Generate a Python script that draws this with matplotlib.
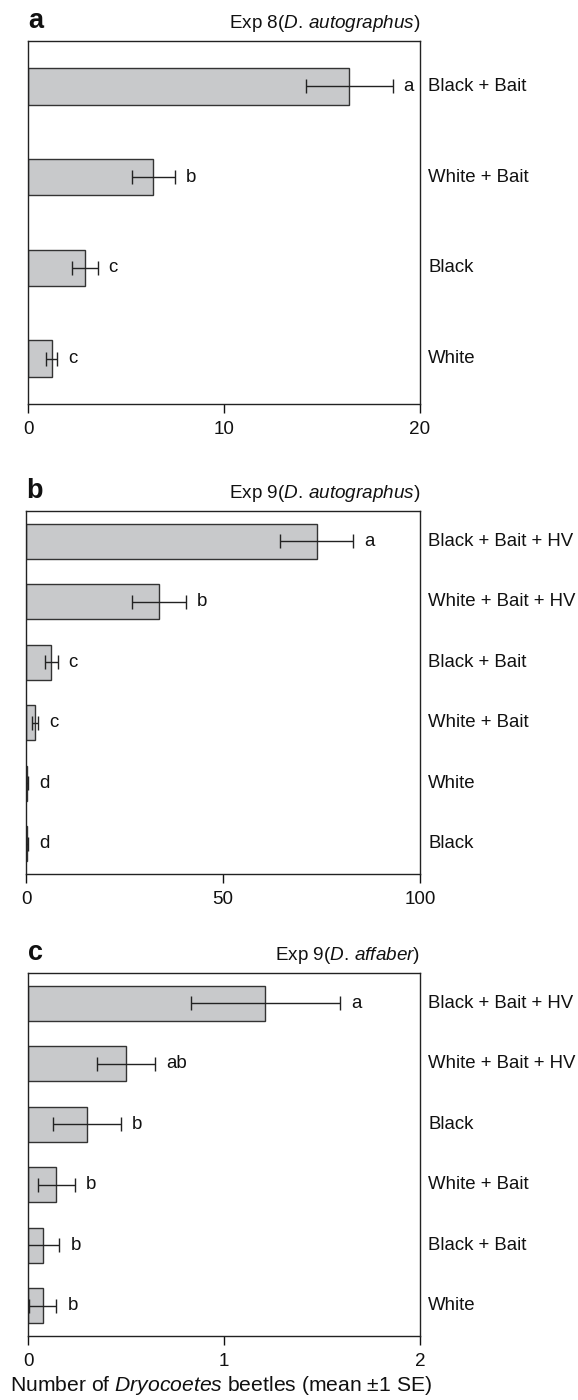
import matplotlib
matplotlib.use("Agg")
import matplotlib.pyplot as plt
import numpy as np

plt.rcParams['font.family'] = ['Liberation Sans', 'DejaVu Sans']
plt.rcParams['mathtext.fontset'] = 'custom'
plt.rcParams['mathtext.rm'] = 'Liberation Sans'
plt.rcParams['mathtext.it'] = 'Liberation Sans:italic'

# ---- data ----
a_labels = ["Black + Bait", "White + Bait", "Black", "White"]
a_means = [16.4, 6.4, 2.9, 1.2]
a_se = [2.2, 1.1, 0.65, 0.27]
a_letters = ["a", "b", "c", "c"]
a_ticks = [0, 10, 20]

b_labels = ["Black + Bait + HV", "White + Bait + HV", "Black + Bait",
            "White + Bait", "White", "Black"]
b_means = [73.8, 33.7, 6.4, 2.3, 0.3, 0.3]
b_se = [9.3, 6.8, 1.6, 0.7, 0.2, 0.2]
b_letters = ["a", "b", "c", "c", "d", "d"]
b_ticks = [0, 50, 100]

c_labels = ["Black + Bait + HV", "White + Bait + HV", "Black",
            "White + Bait", "Black + Bait", "White"]
c_means = [1.21, 0.50, 0.30, 0.145, 0.075, 0.075]
c_se = [0.38, 0.15, 0.175, 0.095, 0.085, 0.07]
c_letters = ["a", "ab", "b", "b", "b", "b"]
c_ticks = [0, 1, 2]

panels = [
    ("a", "Exp 8($\\mathit{D.\\,autographus}$)", a_labels, a_means, a_se, a_letters,
     a_ticks, 0.40, [28, 420, 41, 404]),
    ("b", "Exp 9($\\mathit{D.\\,autographus}$)", b_labels, b_means, b_se, b_letters,
     b_ticks, 0.58, [26, 420, 511, 874]),
    ("c", "Exp 9($\\mathit{D.\\,affaber}$)", c_labels, c_means, c_se, c_letters,
     c_ticks, 0.58, [28, 420, 973, 1336]),
]

W, H = 578, 1400
fig = plt.figure(figsize=(W / 100, H / 100), dpi=100)

FS = 13.4
bar_color = "#c8c9cb"
edge = "#333333"

for letter, title, labels, means, se, letters, ticks, bh, (l, r, t, b) in panels:
    ax = fig.add_axes([l / W, 1 - b / H, (r - l) / W, (b - t) / H])
    n = len(labels)
    y = np.arange(n)
    ax.barh(y, means, height=bh, color=bar_color, edgecolor=edge, linewidth=1.0, zorder=2)
    ax.errorbar(means, y, xerr=se, fmt='none', ecolor="#222222", elinewidth=1.0,
                capsize=4.8, capthick=1.0, zorder=3)
    for yi, m, s, lt in zip(y, means, se, letters):
        ax.annotate(lt, xy=(m + s, yi), xytext=(8, 0), textcoords='offset points',
                    ha='left', va='center', fontsize=FS, color="#111111")
    for yi, lab in zip(y, labels):
        ax.annotate(lab, xy=(1, yi), xycoords=('axes fraction', 'data'), xytext=(6, 0),
                    textcoords='offset points', ha='left', va='center', fontsize=FS,
                    color="#111111", annotation_clip=False)
    ax.set_ylim(n - 0.5, -0.5)
    ax.set_xlim(ticks[0], ticks[-1])
    ax.set_xticks(ticks)
    ax.set_xticklabels([str(v) for v in ticks], fontsize=13.6)
    ax.tick_params(axis='x', direction='out', length=6.5, width=1.0, pad=6, colors="#111111",
                   labelcolor="#111111")
    ax.set_yticks([])
    for sp in ax.spines.values():
        sp.set_linewidth(1.0)
        sp.set_color("#222222")
    ax.annotate(title, xy=(1, 1), xycoords='axes fraction', xytext=(0, 9.5),
                textcoords='offset points', ha='right', va='baseline', fontsize=13.6,
                color="#111111")
    ax.annotate(letter, xy=(0, 1), xycoords='axes fraction', xytext=(0, 9.5),
                textcoords='offset points', ha='left', va='baseline', fontsize=19.5,
                fontweight='bold', color="#111111")

fig.text(221 / W, 1 - 1391 / H, "Number of $\\mathit{Dryocoetes}$ beetles (mean \u00b11 SE)",
         ha='center', va='baseline', fontsize=15.2, color="#111111")

fig.savefig("out.png", dpi=100)
